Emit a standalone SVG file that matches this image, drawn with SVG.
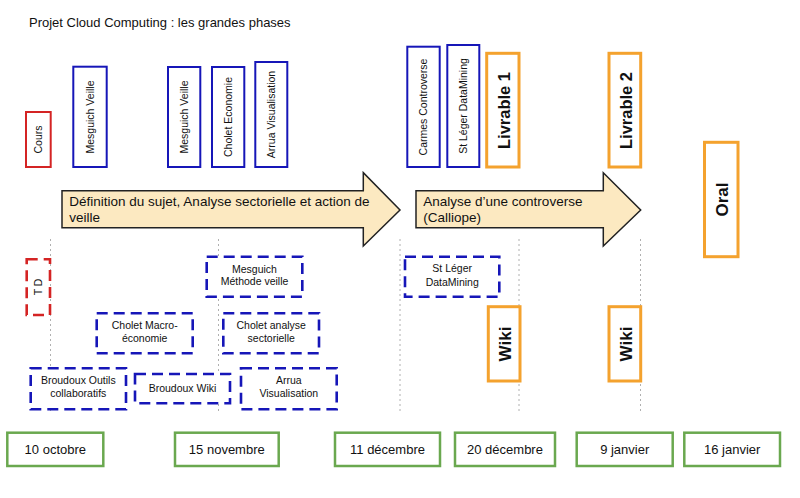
<svg xmlns="http://www.w3.org/2000/svg" width="800" height="498" viewBox="0 0 800 498">
<style>
  text { font-family: "Liberation Sans", Arial, sans-serif; fill: #111; }
  .t13 { font-size: 13px; }
  .t10 { font-size: 10.5px; text-anchor: middle; }
  .bold { font-size: 16.5px; font-weight: bold; text-anchor: middle; }
  .blue { fill: #fff; stroke: #1616b8; stroke-width: 2; }
  .red { fill: #fff; stroke: #d42424; stroke-width: 2; }
  .blued { fill: #fff; stroke: #1616b8; stroke-width: 2.6; stroke-dasharray: 11 6; }
  .redd { fill: #fff; stroke: #d42424; stroke-width: 2.6; stroke-dasharray: 11 6; }
  .orange { fill: #fff; stroke: #f4a22e; stroke-width: 3; }
  .green { fill: #fff; stroke: #6aa84f; stroke-width: 2.5; }
  .arrow { fill: #fce9c1; stroke: #222; stroke-width: 1.5; stroke-linejoin: miter; }
  .guide { stroke: #b0b0b0; stroke-width: 1; stroke-dasharray: 2 3; fill: none; }
  .date { font-size: 13px; text-anchor: middle; }
</style>

<text id="title" class="t13" x="29" y="27.3">Projet Cloud Computing : les grandes phases</text>

<g id="guides">
  <line class="guide" x1="50.5" y1="239" x2="50.5" y2="411"/>
  <line class="guide" x1="218.5" y1="239" x2="218.5" y2="411"/>
  <line class="guide" x1="400" y1="239" x2="400" y2="411"/>
  <line class="guide" x1="519" y1="239" x2="519" y2="411"/>
  <line class="guide" x1="640.5" y1="239" x2="640.5" y2="411"/>
</g>

<!-- top boxes -->
<g id="cours">
  <rect class="red" x="26" y="112" width="24.7" height="55"/>
  <text class="t10" transform="translate(38.3,139.5) rotate(-90)" y="3.8">Cours</text>
</g>
<g id="mesguich-veille-1">
  <rect class="blue" x="73.3" y="66.7" width="33.4" height="100.3"/>
  <text class="t10" transform="translate(90,117) rotate(-90)" y="3.8">Mesguich Veille</text>
</g>
<g id="mesguich-veille-2">
  <rect class="blue" x="168" y="67" width="32.3" height="100"/>
  <text class="t10" transform="translate(184.2,117) rotate(-90)" y="3.8">Mesguich Veille</text>
</g>
<g id="cholet-economie">
  <rect class="blue" x="212" y="67" width="32.3" height="100"/>
  <text class="t10" transform="translate(228.2,117) rotate(-90)" y="3.8">Cholet Economie</text>
</g>
<g id="arrua-visualisation">
  <rect class="blue" x="255.3" y="62" width="32" height="105"/>
  <text class="t10" transform="translate(271.3,114.5) rotate(-90)" y="3.8">Arrua Visualisation</text>
</g>
<g id="carmes-controverse">
  <rect class="blue" x="407.3" y="46.7" width="32.4" height="120.3"/>
  <text class="t10" transform="translate(423.5,107) rotate(-90)" y="3.8">Carmes Controverse</text>
</g>
<g id="st-leger-datamining-top">
  <rect class="blue" x="447.3" y="45" width="32" height="122"/>
  <text class="t10" transform="translate(463.3,106) rotate(-90)" y="3.8">St Léger DataMining</text>
</g>
<g id="livrable-1">
  <rect class="orange" x="486.7" y="53.3" width="32.3" height="113.7"/>
  <text class="bold" transform="translate(503.5,110.5) rotate(-90)" y="6">Livrable 1</text>
</g>
<g id="livrable-2">
  <rect class="orange" x="609" y="53.3" width="31.7" height="113.7"/>
  <text class="bold" transform="translate(625.5,110.5) rotate(-90)" y="6">Livrable 2</text>
</g>
<g id="oral">
  <rect class="orange" x="704.5" y="142.3" width="33.5" height="114.4"/>
  <text class="bold" transform="translate(721.5,199.5) rotate(-90)" y="6" style="font-size:17px">Oral</text>
</g>

<!-- phase arrows -->
<g id="phase-1">
  <path class="arrow" d="M62,190.7 H363.3 V172.7 L400,210 L363.3,246 V227.7 H62 Z"/>
  <text x="69.3" y="205.7" style="font-size:13.5px">Définition du sujet, Analyse sectorielle et action de</text>
  <text x="69.3" y="221.7" style="font-size:13.5px">veille</text>
</g>
<g id="phase-2">
  <path class="arrow" d="M416,190.7 H603.3 V172.7 L640.7,210 L603.3,246 V227.7 H416 Z"/>
  <text x="423.3" y="205.7" style="font-size:13.5px">Analyse d’une controverse</text>
  <text x="423.3" y="221.7" style="font-size:13.5px">(Calliope)</text>
</g>

<!-- dashed boxes -->
<g id="td">
  <rect class="redd" x="26.7" y="259.3" width="23.3" height="55.7"/>
  <text class="t10" transform="translate(38.3,287) rotate(-90)" y="3.8">T D</text>
</g>
<g id="mesguich-methode-veille">
  <rect class="blued" x="206.7" y="256.7" width="95.6" height="40"/>
  <text class="t10" x="254.5" y="272.5">Mesguich</text>
  <text class="t10" x="254.5" y="285.2">Méthode veille</text>
</g>
<g id="st-leger-datamining">
  <rect class="blued" x="405" y="256.7" width="94.3" height="40"/>
  <text class="t10" x="452.2" y="272.3">St Léger</text>
  <text class="t10" x="452.2" y="285.5">DataMining</text>
</g>
<g id="cholet-macro">
  <rect class="blued" x="96.7" y="313.3" width="96" height="40"/>
  <text class="t10" x="144.7" y="328.5">Cholet Macro-</text>
  <text class="t10" x="144.7" y="341.7">économie</text>
</g>
<g id="cholet-analyse">
  <rect class="blued" x="223.3" y="313.3" width="95.7" height="40"/>
  <text class="t10" x="271.2" y="328.5">Cholet analyse</text>
  <text class="t10" x="271.2" y="341.7">sectorielle</text>
</g>
<g id="broudoux-outils">
  <rect class="blued" x="30.7" y="368.3" width="95.3" height="41"/>
  <text class="t10" x="78.3" y="384">Broudoux Outils</text>
  <text class="t10" x="78.3" y="397.3">collaboratifs</text>
</g>
<g id="broudoux-wiki">
  <rect class="blued" x="135" y="374" width="95" height="29.3"/>
  <text class="t10" x="182.5" y="391.5">Broudoux Wiki</text>
</g>
<g id="arrua-visualisation-td">
  <rect class="blued" x="241" y="368.3" width="95.7" height="41"/>
  <text class="t10" x="288.8" y="384">Arrua</text>
  <text class="t10" x="288.8" y="397.3">Visualisation</text>
</g>

<g id="wiki-1">
  <rect class="orange" x="488.3" y="306.7" width="31.7" height="74.3"/>
  <text class="bold" transform="translate(505,344) rotate(-90)" y="6" style="font-size:17px">Wiki</text>
</g>
<g id="wiki-2">
  <rect class="orange" x="609" y="306.7" width="31.7" height="74.3"/>
  <text class="bold" transform="translate(625.5,344) rotate(-90)" y="6" style="font-size:17px">Wiki</text>
</g>

<!-- dates -->
<g id="date-10-octobre">
  <rect class="green" x="7.3" y="432.7" width="96" height="33.3"/>
  <text class="date" x="55.3" y="453.8">10 octobre</text>
</g>
<g id="date-15-novembre">
  <rect class="green" x="175" y="432.7" width="103.7" height="33.3"/>
  <text class="date" x="226.8" y="453.8">15 novembre</text>
</g>
<g id="date-11-decembre">
  <rect class="green" x="335" y="432.7" width="105" height="33.3"/>
  <text class="date" x="387.5" y="453.8">11 décembre</text>
</g>
<g id="date-20-decembre">
  <rect class="green" x="455" y="432.7" width="100" height="33.3"/>
  <text class="date" x="505" y="453.8">20 décembre</text>
</g>
<g id="date-9-janvier">
  <rect class="green" x="576.7" y="432.7" width="96" height="33.3"/>
  <text class="date" x="624.7" y="453.8">9 janvier</text>
</g>
<g id="date-16-janvier">
  <rect class="green" x="684.3" y="432.7" width="95.7" height="33.3"/>
  <text class="date" x="732.2" y="453.8">16 janvier</text>
</g>
</svg>
